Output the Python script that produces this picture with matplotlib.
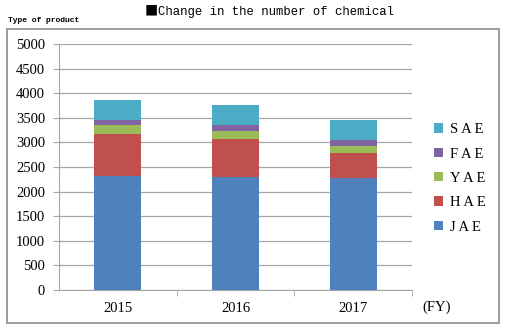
import numpy as np
import matplotlib.pyplot as plt
from matplotlib.patches import Rectangle

# dane z wykresu
years = ["2015", "2016", "2017"]
jae = [2320, 2300, 2275]
hae = [850, 770, 505]
yae = [185, 165, 150]
fae = [100, 110, 120]
sae = [400, 415, 405]
labels = ["J A E", "H A E", "Y A E", "F A E", "S A E"]
colors = ["#4F81BD", "#C0504D", "#9BBB59", "#8064A2", "#4BACC6"]

serif = "Liberation Serif"
mono = "Liberation Mono"

fig = plt.figure(figsize=(5.08, 3.32), dpi=100)
W, H = 508, 332

# ramka całego wykresu
fig.patches.append(Rectangle((7 / W, 1 - 323 / H), 492 / W, 294 / H,
                             transform=fig.transFigure, fill=False,
                             edgecolor="#8c8c8c", linewidth=1.2))

ax = fig.add_axes([59 / W, 1 - 290 / H, 353 / W, 246 / H])

series = [jae, hae, yae, fae, sae]
x = np.arange(len(years))
bottom = np.zeros(len(years))
for vals, c, lab in zip(series, colors, labels):
    ax.bar(x, vals, 0.4, bottom=bottom, color=c, label=lab, zorder=3)
    bottom += np.array(vals)

ax.set_xlim(-0.5, 2.5)
ax.set_ylim(0, 5000)
ax.set_yticks(np.arange(0, 5001, 500))
ax.set_yticklabels([str(v) for v in range(0, 5001, 500)], fontfamily=serif, fontsize=10.5)
ax.grid(axis="y", color="#a6a6a6", linewidth=0.9, zorder=0)

ax.set_xticks(x)
ax.set_xticklabels(years, fontfamily=serif, fontsize=10.5)
ax.tick_params(axis="x", length=0, pad=9)
ax.set_xticks([0.5, 1.5, 2.5], minor=True)
ax.tick_params(axis="x", which="minor", length=4, color="#a6a6a6")
ax.tick_params(axis="y", length=4, color="#a6a6a6", pad=6)

for s in ["top", "right"]:
    ax.spines[s].set_visible(False)
ax.spines["left"].set_color("#a6a6a6")
ax.spines["bottom"].set_color("#a6a6a6")

# legenda (odwrócona kolejność)
h, l = ax.get_legend_handles_labels()
fig.legend(h[::-1], l[::-1], loc="upper left", bbox_to_anchor=(421 / W, 1 - 110 / H),
           frameon=False, handlelength=0.6, handleheight=0.6, handletextpad=0.5,
           labelspacing=0.78, prop={"family": serif, "size": 10.5})

fig.text(145 / W, 1 - 12 / H, "■", ha="left", va="center",
         fontfamily="Noto Sans CJK JP", fontsize=9.5)
fig.text(158 / W, 1 - 12 / H, "Change in the number of chemical",
         ha="left", va="center", fontfamily=mono, fontsize=8.8)
fig.text(8 / W, 1 - 20 / H, "Type of product", ha="left", va="center",
         fontfamily=mono, fontsize=5.8, fontweight="bold")
fig.text(437 / W, 1 - 307 / H, "(FY)", ha="center", va="center",
         fontfamily=serif, fontsize=10.5)

plt.savefig("out.png", dpi=100)
